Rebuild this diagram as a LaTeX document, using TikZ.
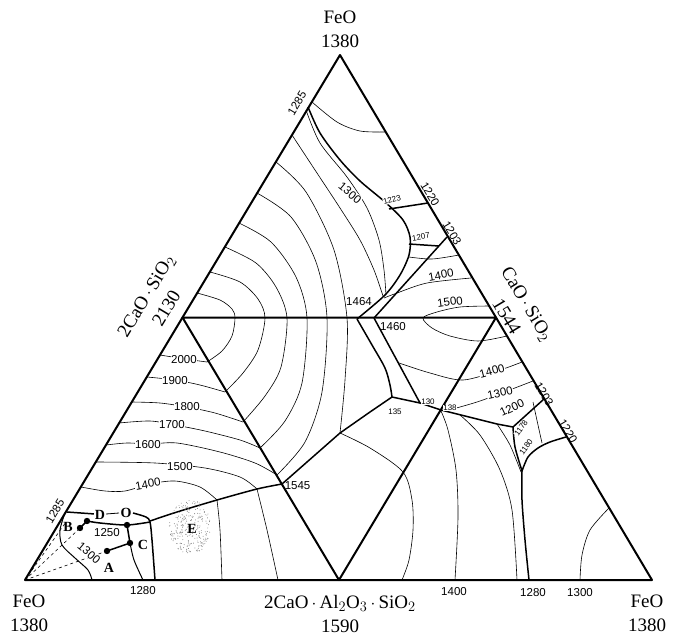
\documentclass[tikz,border=0pt]{standalone}
\usepackage{fontspec}
\setmainfont{Liberation Serif}
\newfontfamily\lblfont{Liberation Sans}
\begin{document}
\begin{tikzpicture}[x=1pt,y=-1pt,
  frame/.style={line width=2pt,line join=round},
  bnd/.style={line width=1.5pt,line join=round},
  iso/.style={line width=0.6pt},
  lbl/.style={font=\lblfont\fontsize{11.5}{11.5}\selectfont,inner sep=0.6pt,fill=white},
  tiny/.style={font=\lblfont\fontsize{8}{8}\selectfont,inner sep=0.3pt,fill=white},
  big/.style={font=\fontsize{19}{24}\selectfont,inner sep=0pt,align=center},
  letter/.style={font=\bfseries\fontsize{14}{14}\selectfont,inner sep=0.5pt,fill=white},
  dot/.style={fill=black}]
\useasboundingbox (0,0) rectangle (683,637);
% corners
\coordinate (T) at (340,55);
\coordinate (L) at (25,580);
\coordinate (R) at (652,580);
\coordinate (ML) at (182.5,317.5);
\coordinate (MR) at (496,317.5);
\coordinate (MB) at (339,580);

% ---------- thin isotherms, upper-left sub-triangle and middle ----------
\draw[iso] plot[smooth] coordinates {(197,293) (220,300) (232,309) (235,318) (232,336) (222,351) (207,362)};
\draw[iso] plot[smooth] coordinates {(210,272) (240,282) (258,299) (265,318) (258,350) (243,373) (225,392)};
\draw[iso] plot[smooth] coordinates {(225,247) (256,263) (276,287) (287,318) (281,367) (265,396) (243,422)};
\draw[iso] plot[smooth] coordinates {(239,223) (271,242) (296,277) (307,318) (302,383) (285,421) (260,448)};
\draw[iso] plot[smooth] coordinates {(257,193) (291,217) (316,262) (327,318) (322,392) (305,442) (277,475)};
\draw[iso] plot[smooth] coordinates {(276,162) (306,192) (334,250) (347,318) (345,380) (340,433)};
\draw[iso] plot[smooth] coordinates {(292,135) (315,170) (340,208) (360,240) (374,270) (383,296)};
\draw[iso] plot[smooth] coordinates {(306,110) (320,143) (347,177) (367,208) (379,240) (384,270) (386,295)};
\draw[iso] plot[smooth] coordinates {(312,102) (337,122) (360,131) (386,132)};

% ---------- lower-left isotherms ----------
\draw[iso] plot[smooth] coordinates {(160,355) (185,359) (207,362)};
\draw[iso] plot[smooth] coordinates {(147,377) (175,380) (200,385) (225,392)};
\draw[iso] plot[smooth] coordinates {(132,402) (160,403) (187,407) (215,413) (243,422)};
\draw[iso] plot[smooth] coordinates {(119,423) (150,421) (175,425) (205,431) (240,440) (260,448)};
\draw[iso] plot[smooth] coordinates {(106,445) (127,443) (150,444) (177,443) (220,452) (255,463) (277,475)};
\draw[iso] plot[smooth] coordinates {(96,462) (155,463) (205,468) (240,477) (257,489)};
\draw[iso] plot[smooth] coordinates {(81,487) (105,491) (125,491) (150,484) (175,481) (200,487) (217,500)};
\draw[iso] plot[smooth] coordinates {(217,500) (220,530) (222,580)};
\draw[iso] plot[smooth] coordinates {(257,489) (267,530) (278,580)};

% ---------- right / middle isotherms ----------
\draw[iso] plot[smooth] coordinates {(489,306) (460,307) (437,312) (423,318) (432,328) (450,336) (478,341) (507,336)};
\draw[iso] plot[smooth] coordinates {(384,298) (397,293) (427,283) (471,278)};
\draw[iso] plot[smooth] coordinates {(409,257) (432,259) (459,255)};
\draw[iso] plot[smooth] coordinates {(399,363) (430,373) (463,380) (500,370) (522,362)};
\draw[iso] plot[smooth] coordinates {(445,411) (480,401) (533,381)};
\draw[iso] plot[smooth] coordinates {(340,433) (370,448) (403,472) (412,500) (413,530) (409,560) (402,580)};
\draw[iso] plot[smooth] coordinates {(441,411) (448,430) (456,470) (458,517) (455,580)};
\draw[iso] plot[smooth] coordinates {(460,415) (480,435) (500,470) (512,510) (517,580)};
\draw[iso] plot[smooth] coordinates {(497,424) (510,445) (521,472)};
\draw[iso] plot[smooth] coordinates {(533,402) (538,425) (542,443)};
\draw[iso] plot[smooth] coordinates {(609,508) (590,530) (582,555) (580,580)};

% ---------- lower-left corner details ----------
\draw[iso,dashed] (L) -- (66,522);
\draw[iso,dashed] (L) -- (80,528);
\draw[iso,dashed] (L) -- (107,551);
\draw[line width=1pt] plot[smooth] coordinates {(65,513) (60,530) (62,545) (75,558) (88,570) (92,580)};
\draw[line width=1pt] plot[smooth] coordinates {(130,543) (134,560) (143,580)};

% ---------- thick boundaries ----------
\draw[bnd] plot[smooth] coordinates {(308,107) (320,133) (340,160) (360,181) (385,202) (403,220) (410,237) (409,255) (400,275) (385,295) (357,319)};
\draw[bnd] (447,237) -- (374,318);
\draw[bnd] (389,209) -- (428,203);
\draw[bnd] (409,244) -- (439,246);
\draw[bnd] plot[smooth] coordinates {(357,319) (372,345) (385,368) (390,385) (392,397)};
\draw[bnd] (374,318) -- (420,403);
\draw[bnd] (392,397) -- (420,403) -- (441,410) -- (497,424) -- (513,427);
\draw[bnd] (392,397) -- (370,412) -- (340,433) -- (282,484);
\draw[bnd] plot[smooth] coordinates {(282,484) (257,489) (217,500) (177,512) (150,521)};
\draw[bnd] (513,427) -- (544,399);
\draw[bnd] plot[smooth] coordinates {(513,427) (515,447) (522,471)};
\draw[bnd] plot[smooth] coordinates {(522,471) (528,457) (538,448) (550,442) (566,437)};
\draw[bnd] plot[smooth] coordinates {(522,471) (522,500) (525,540) (529,580)};
% O region
\draw[bnd] (67,512) -- (95,514);
\draw[bnd] plot[smooth] coordinates {(133,513) (146,517) (150,522) (152,540) (155,580)};
\draw[line width=0.8pt] (106,514) -- (119,513);
\draw[bnd] plot[smooth] coordinates {(87,521) (100,523) (127,525) (150,522)};
\draw[bnd] (80,528) -- (87,521);
\draw[bnd] (127,525) -- (130,543);
\draw[bnd] (107,551) -- (130,543);

% ---------- triangles ----------
\draw[frame] (T) -- (L) -- (R) -- cycle;
\draw[frame] (ML) -- (MR) -- (MB) -- cycle;

% ---------- E stipple ----------
\pgfmathsetseed{7}
\foreach \i in {1,...,260}{
  \pgfmathsetmacro\ang{rnd*360}
  \pgfmathsetmacro\rr{sqrt(rnd)}
  \fill[black!55] ({190+21*\rr*cos(\ang)},{527+27*\rr*sin(\ang)}) circle (0.45);
}

% ---------- dots ----------
\fill[dot] (80,528) circle (3.2);
\fill[dot] (87,521) circle (3.2);
\fill[dot] (127,525) circle (3.2);
\fill[dot] (130,543) circle (3.2);
\fill[dot] (107,551) circle (3.2);

% ---------- letters ----------
\node[letter] (nD) at (100,515) {D};
\node[letter] (nO) at (126,513) {O};
\node[letter,fill=none] (nB) at (68,527) {B};
\node[letter,fill=none] (nC) at (143,545) {C};
\node[letter,fill=none] (nA) at (109,568) {A};
\node[letter,fill=none] (nE) at (192,529) {E};

% ---------- labels ----------
\node[lbl] (t2000) at (184,360) {2000};
\node[lbl] (t1900) at (175,381) {1900};
\node[lbl] (t1800) at (187,407) {1800};
\node[lbl] (t1700) at (172,425) {1700};
\node[lbl] (t1600) at (148,445) {1600};
\node[lbl] (t1500) at (180,467) {1500};
\node[lbl,rotate=10] (t1400) at (148,484) {1400};
\node[lbl] (t1250) at (107,533) {1250};
\node[lbl,rotate=-40] (t1300a) at (89,553) {1300};
\node[lbl,rotate=59,fill=none] (e1285b) at (55,511) {1285};
\node[lbl,fill=none] (b1280a) at (143,591) {1280};
\node[lbl,fill=none] (b1400) at (454,592) {1400};
\node[lbl,fill=none] (b1280b) at (533,593) {1280};
\node[lbl,fill=none] (b1300) at (580,593) {1300};
\node[lbl,fill=none,anchor=west] (t1545) at (284,486) {1545};
\node[lbl,fill=none] (t1464) at (359,302) {1464};
\node[lbl,fill=none] (t1460) at (393,327) {1460};
\node[lbl,rotate=8] (t1500u) at (450,302) {1500};
\node[lbl,rotate=10] (t1400u) at (441,275) {1400};
\node[lbl,rotate=15] (t1400l) at (492,371) {1400};
\node[lbl,rotate=12] (t1300l) at (500,393) {1300};
\node[lbl,rotate=25] (t1200l) at (512,408) {1200};
\node[tiny,fill=none] (t135) at (395,412) {135};
\node[tiny] (t130) at (428,402) {130};
\node[tiny] (t138) at (450,408) {138};
\node[tiny,rotate=55] (t1178) at (521,428) {1178};
\node[tiny,rotate=55] (t1180) at (526,447) {1180};
\node[tiny,rotate=15] (t1223) at (392,200) {1223};
\node[tiny,rotate=10] (t1207) at (421,237) {1207};
\node[lbl,rotate=-40] (t1300u) at (350,193) {1300};
\node[lbl,rotate=59,fill=none] (e1285) at (297,103) {1285};
\node[lbl,rotate=-59,fill=none] (e1220) at (430,194) {1220};
\node[lbl,rotate=-59,fill=none] (e1203) at (452,233) {1203};
\node[lbl,rotate=-59,fill=none] (e1203b) at (544,394) {1203};
\node[lbl,rotate=-59,fill=none] (e1220b) at (568,431) {1220};

% ---------- big labels ----------
\node[big] (top) at (340,29) {FeO\\1380};
\node[big] (bl) at (29,613) {FeO\\1380};
\node[big] (br) at (647,613) {FeO\\1380};
\node[big] (bm) at (340,614) {2CaO\,$\cdot$\,Al$_2$O$_3$\,$\cdot$\,SiO$_2$\\1590};
\node[big,rotate=59] (lft) at (156,302) {2CaO\,$\cdot$\,SiO$_2$\\2130};
\node[big,rotate=-59] (rgt) at (517,310) {CaO\,$\cdot$\,SiO$_2$\\1544};
\end{tikzpicture}
\end{document}
